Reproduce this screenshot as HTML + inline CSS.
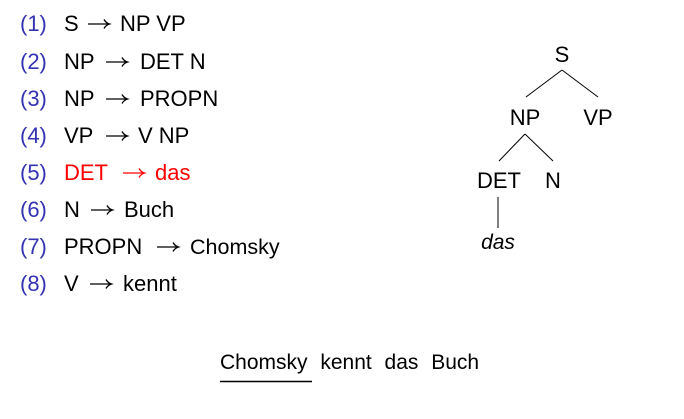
<!DOCTYPE html>
<html><head><meta charset="utf-8"><style>
html,body{margin:0;padding:0;background:#fff;width:684px;height:419px;overflow:hidden}
svg text{font-family:"Liberation Sans","DejaVu Sans",sans-serif;font-size:22px}
.b{fill:#3333b3}.k{fill:#000}.r{fill:#ff0000}
</style></head><body>
<svg width="684" height="419" viewBox="0 0 684 419" xmlns="http://www.w3.org/2000/svg">
<defs>
<g id="ar"><path d="M0 0 H21 M16 -4.5 Q18 -1 21.5 0 Q18 1 16 4.5" fill="none" stroke-width="1.3"/></g>
</defs>
<g class="b">
<text x="20" y="31">(1)</text><text x="20" y="69">(2)</text><text x="20" y="106">(3)</text><text x="20" y="143">(4)</text>
<text x="20" y="180">(5)</text><text x="20" y="217">(6)</text><text x="20" y="254">(7)</text><text x="20" y="291">(8)</text>
</g>
<g class="k">
<text x="64" y="31">S</text><text x="120" y="31">NP VP</text>
<text x="64" y="69">NP</text><text x="140" y="69">DET N</text>
<text x="64" y="106">NP</text><text x="140" y="106">PROPN</text>
<text x="64" y="143">VP</text><text x="138" y="143">V NP</text>
<text x="64" y="217">N</text><text x="124" y="217">Buch</text>
<text x="64" y="254">PROPN</text><text x="190" y="254" style="font-size:21.5px">Chomsky</text>
<text x="64" y="291">V</text><text x="123" y="291">kennt</text>
</g>
<g class="r"><text x="64" y="180">DET</text><text x="155" y="180">das</text></g>
<g stroke="#000">
<use href="#ar" x="88" y="24"/>
<use href="#ar" x="106" y="62"/>
<use href="#ar" x="106" y="99"/>
<use href="#ar" x="106" y="136"/>
<use href="#ar" x="91" y="210"/>
<use href="#ar" x="157" y="247"/>
<use href="#ar" x="90" y="284"/>
</g>
<g stroke="#ff0000"><use href="#ar" x="123" y="173"/></g>
<g text-anchor="middle" class="k">
<text x="562" y="62">S</text>
<text x="525" y="125">NP</text>
<text x="598" y="125">VP</text>
<text x="499" y="188">DET</text>
<text x="553" y="188">N</text>
<text x="498" y="249" font-style="italic" style="font-size:21px">das</text>
</g>
<g stroke="#000" stroke-width="1" fill="none">
<line x1="562" y1="70" x2="526" y2="97"/>
<line x1="562" y1="70" x2="598" y2="97"/>
<line x1="525" y1="134" x2="499" y2="161"/>
<line x1="525" y1="134" x2="553" y2="161"/>
<line x1="498" y1="197" x2="498" y2="228"/>
<line x1="220" y1="381.5" x2="312" y2="381.5" stroke-width="1.5"/>
</g>
<text x="220" y="369" class="k" style="font-size:21px" word-spacing="7">Chomsky kennt das Buch</text>
</svg>
</body></html>
